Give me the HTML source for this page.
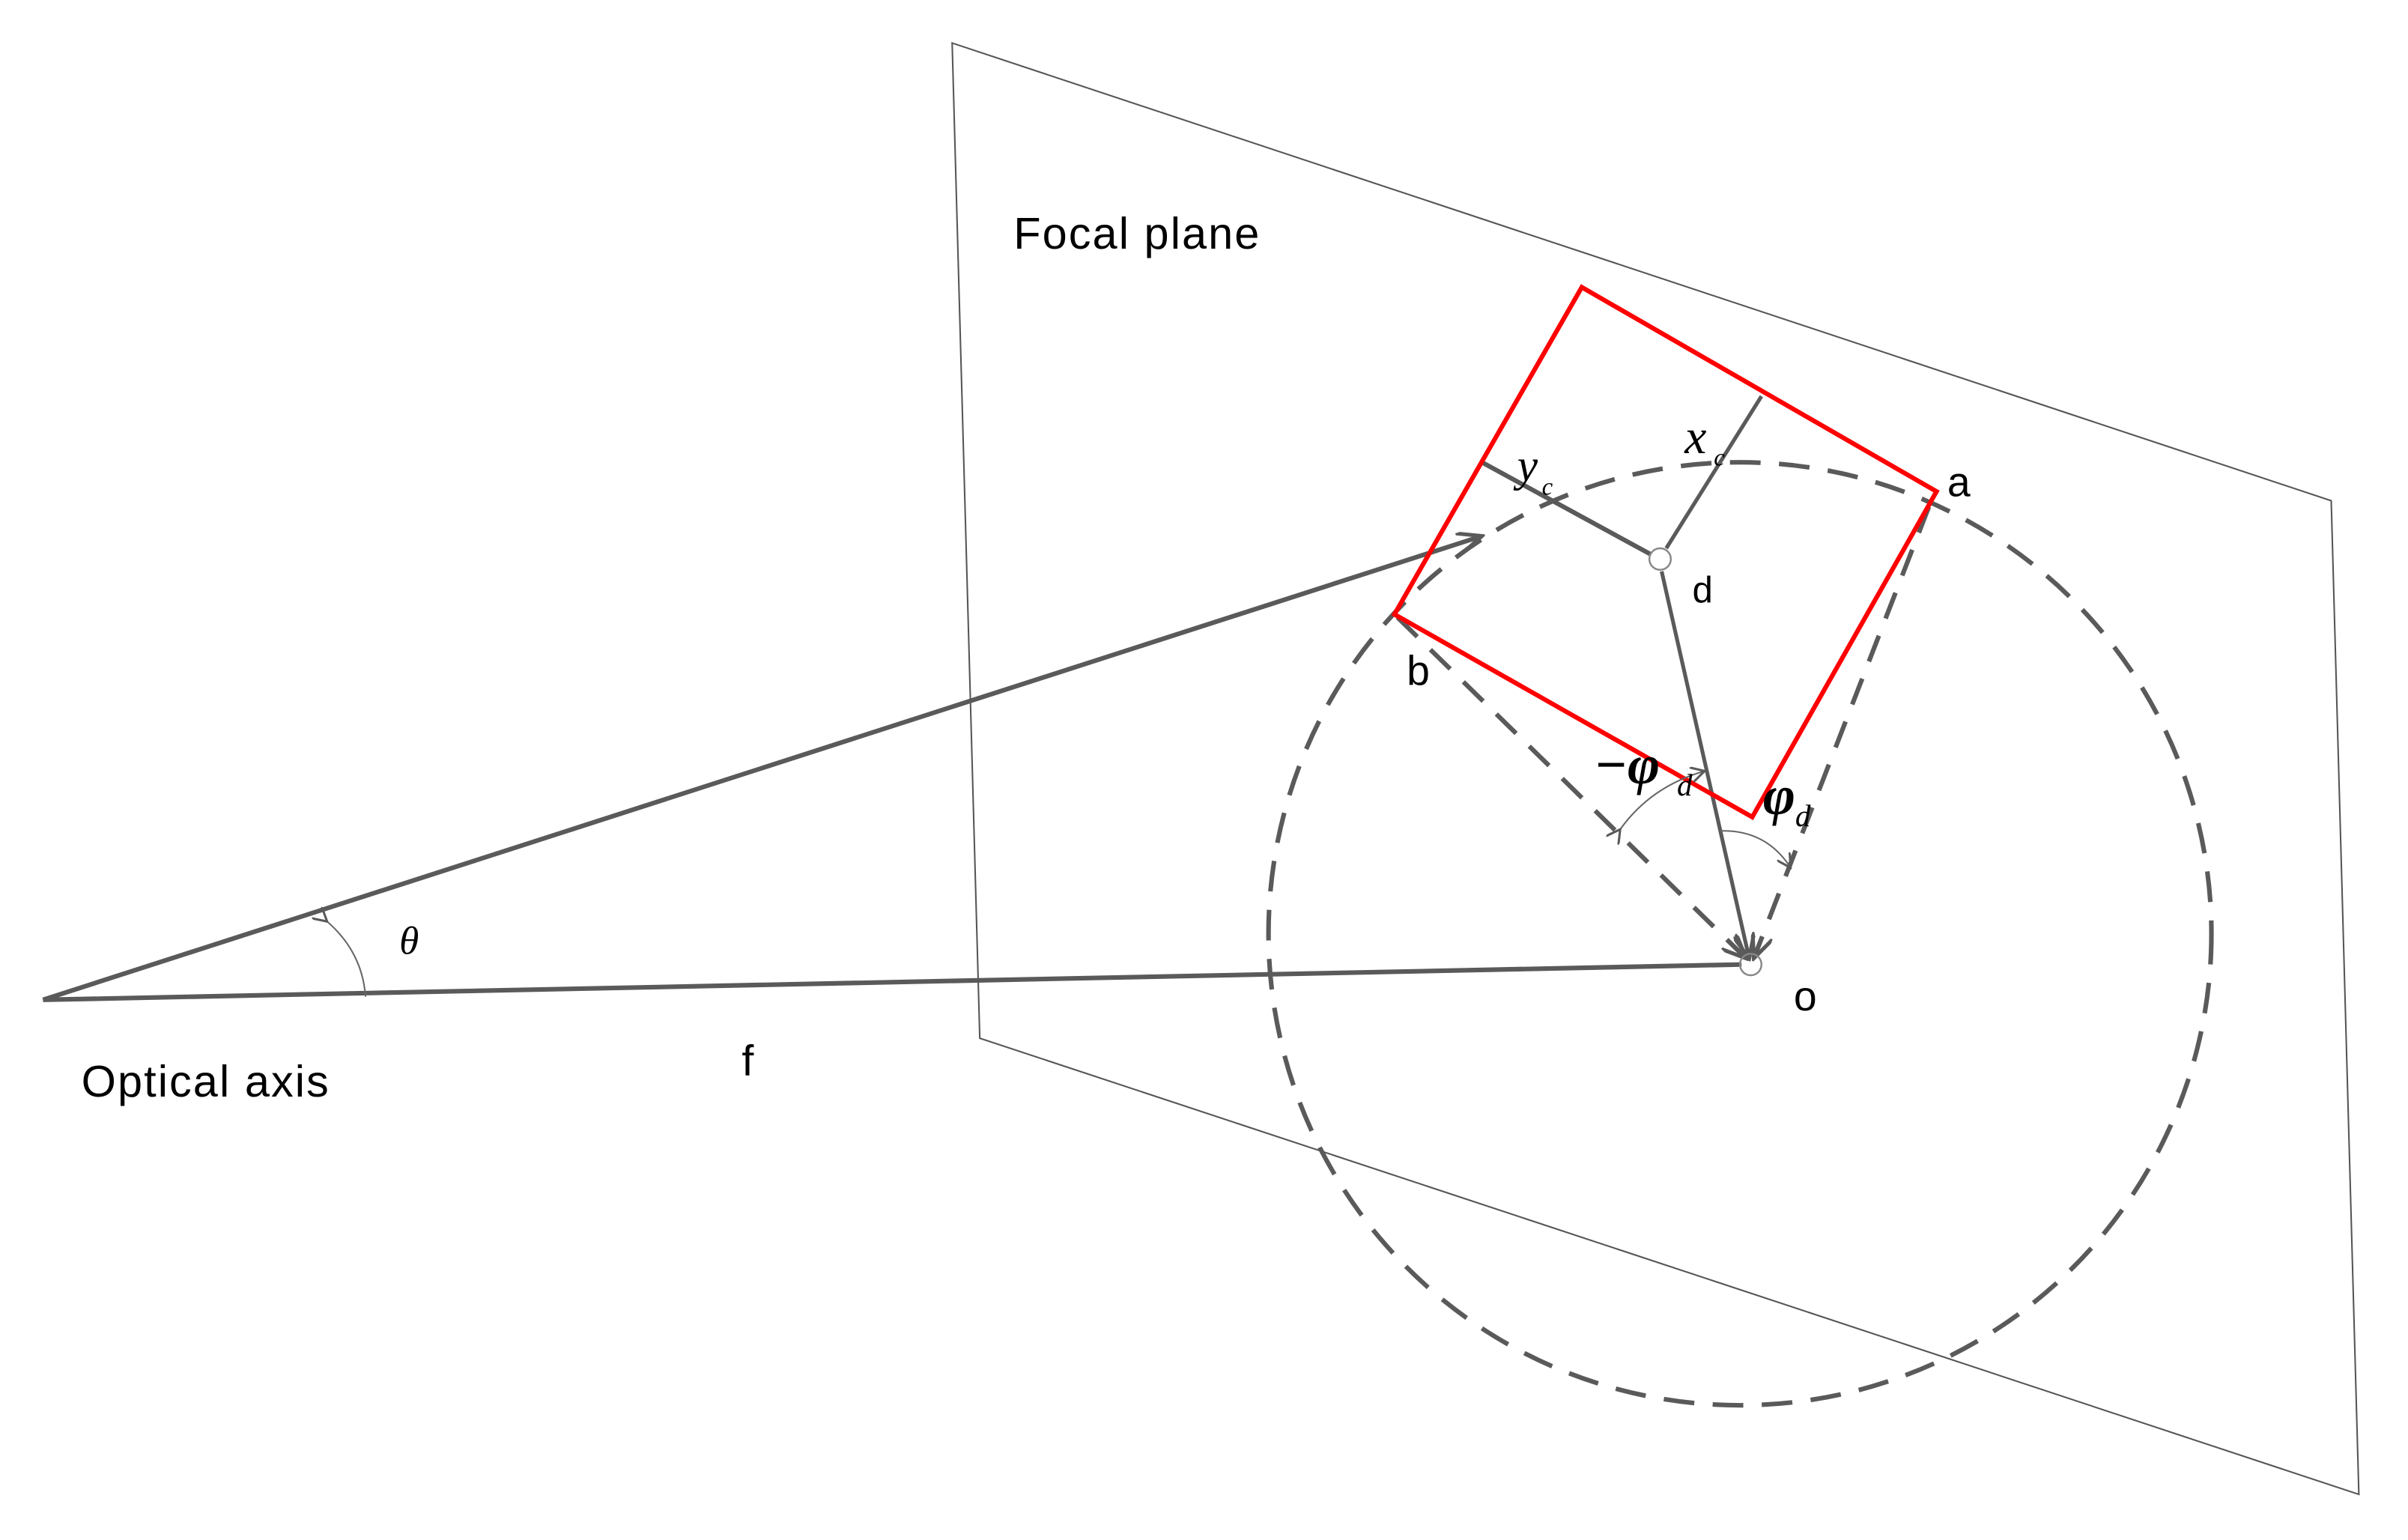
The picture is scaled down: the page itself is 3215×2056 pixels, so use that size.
<!DOCTYPE html>
<html><head><meta charset="utf-8"><style>
html,body{margin:0;padding:0;background:#fff}
svg{display:block}
.s{font-family:"Liberation Sans",sans-serif;fill:#000}
.m{font-family:"Liberation Serif",serif;font-style:italic;fill:#000}
</style></head><body>
<svg width="3215" height="2056" viewBox="0 0 1568 1002.7" xmlns="http://www.w3.org/2000/svg">
<defs>
<marker id="ar" markerWidth="10" markerHeight="10" refX="9" refY="5" orient="auto" markerUnits="userSpaceOnUse">
<path d="M0,0 L9,5 L0,10" fill="none" stroke="#5a5a5a" stroke-width="1.5"/>
</marker>
<marker id="ar2" markerWidth="18" markerHeight="14" refX="16" refY="7" orient="auto" markerUnits="userSpaceOnUse">
<path d="M0,0 L16,7 L0,14" fill="none" stroke="#5a5a5a" stroke-width="2.5"/>
</marker>
</defs>
<polygon points="620,28 1518,326 1536,973 638,676" fill="none" stroke="#555" stroke-width="1"/>
<circle cx="1133" cy="608" r="307" fill="none" stroke="#5a5a5a" stroke-width="3" stroke-dasharray="20,12"/>
<line x1="28" y1="651" x2="1134" y2="628" stroke="#5a5a5a" stroke-width="3"/>
<line x1="28" y1="651" x2="965" y2="349" stroke="#5a5a5a" stroke-width="3" marker-end="url(#ar2)"/>
<line x1="965" y1="301" x2="1075" y2="361" stroke="#5a5a5a" stroke-width="3"/>
<line x1="1147" y1="258" x2="1085" y2="357" stroke="#5a5a5a" stroke-width="2.5"/>
<line x1="1082" y1="372" x2="1139" y2="624" stroke="#5a5a5a" stroke-width="2.5" marker-end="url(#ar2)"/>
<line x1="910" y1="402" x2="1137" y2="624" stroke="#5a5a5a" stroke-width="3" stroke-dasharray="18,12" marker-end="url(#ar2)"/>
<line x1="1256" y1="330" x2="1142" y2="624" stroke="#5a5a5a" stroke-width="3" stroke-dasharray="18,12" marker-end="url(#ar2)"/>
<polygon points="1030,187 1261,320 1141,532 908,400" fill="none" stroke="#f00" stroke-width="3"/>
<circle cx="1081" cy="364" r="7" fill="#fff" stroke="#888" stroke-width="1.2"/>
<circle cx="1140" cy="628" r="7" fill="none" stroke="#888" stroke-width="1.2"/>
<path d="M1055,540 Q1075,512 1110,502" fill="none" stroke="#666" stroke-width="1" marker-end="url(#ar)" marker-start="url(#ar)"/>
<path d="M1120,541 Q1150,540 1166,565" fill="none" stroke="#666" stroke-width="1" marker-end="url(#ar)"/>
<path d="M213,600 Q236,620 238,649" fill="none" stroke="#666" stroke-width="1" marker-start="url(#ar)"/>
<text class="s" x="660" y="162" font-size="29" textLength="160">Focal plane</text>
<text class="s" x="53" y="714" font-size="29" textLength="161">Optical axis</text>
<text class="s" x="483" y="700" font-size="28">f</text>
<text class="s" x="1268" y="323" font-size="27">a</text>
<text class="s" x="916" y="446" font-size="27">b</text>
<text class="s" x="1102" y="392" font-size="24">d</text>
<text class="s" x="1168" y="658" font-size="27">o</text>
<text class="m" x="260" y="621" font-size="26">θ</text>
<text class="m" x="1097" y="295" font-size="32">x</text><text class="m" x="1116" y="303" font-size="16">c</text>
<text class="m" x="988" y="313" font-size="30">y</text><text class="m" x="1004" y="322" font-size="16">c</text>
<text class="m" x="1038" y="510" font-size="36" font-weight="bold">−φ</text><text class="m" x="1092" y="518" font-size="20">d</text>
<text class="m" x="1148" y="530" font-size="36" font-weight="bold">φ</text><text class="m" x="1169" y="538" font-size="20">d</text>
</svg>
</body></html>
